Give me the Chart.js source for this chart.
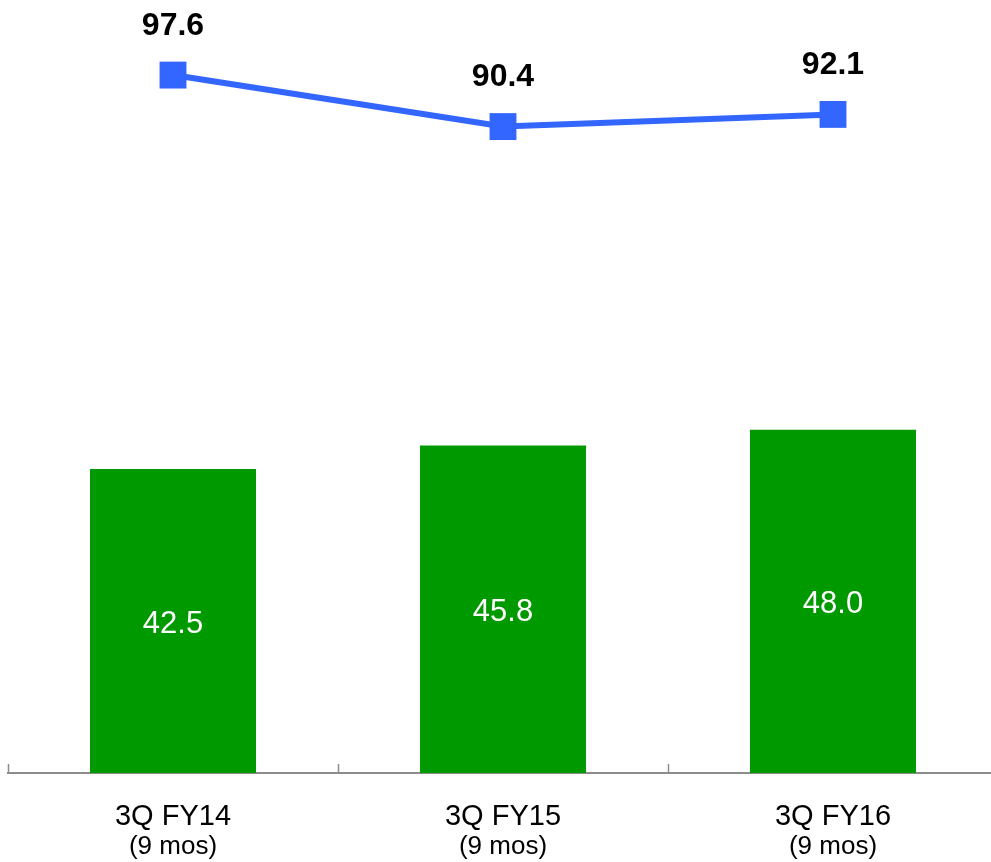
<!DOCTYPE html>
<html>
<head>
<meta charset="utf-8">
<script src="https://cdn.jsdelivr.net/npm/chart.js@4.4.1/dist/chart.umd.min.js"></script>
<style>
  html, body { margin: 0; padding: 0; background: #fff; overflow: hidden; }
  #chart { display: block; }
</style>
</head>
<body>
<canvas id="chart" width="1000" height="862"></canvas>
<script>
const categories = ['3Q FY14', '3Q FY15', '3Q FY16'];
const subLabels = ['(9 mos)', '(9 mos)', '(9 mos)'];
const barValues = [42.5, 45.8, 48.0];
const lineValues = [97.6, 90.4, 92.1];

const FONT = '"Liberation Sans", Arial, sans-serif';

// value labels, sub labels and the small upward tick marks
const labelPlugin = {
    id: 'labelPlugin',
    afterDatasetsDraw(chart) {
        const ctx = chart.ctx;
        const xScale = chart.scales.x;
        const bottom = chart.chartArea.bottom;

        ctx.save();
        ctx.textAlign = 'center';
        ctx.textBaseline = 'middle';

        chart.getDatasetMeta(0).data.forEach((bar, i) => {
            ctx.fillStyle = '#ffffff';
            ctx.font = '31px ' + FONT;
            ctx.fillText(barValues[i].toFixed(1), bar.x, (bar.y + bar.base) / 2 + 3);
        });

        chart.getDatasetMeta(1).data.forEach((pt, i) => {
            ctx.fillStyle = '#000000';
            ctx.font = 'bold 32px ' + FONT;
            ctx.fillText(lineValues[i].toFixed(1), pt.x, pt.y - 49);
        });

        ctx.fillStyle = '#000000';
        ctx.font = '26px ' + FONT;
        categories.forEach((c, i) => {
            ctx.fillText(subLabels[i], xScale.getPixelForValue(i), 847);
        });

        ctx.strokeStyle = '#8c8c8c';
        ctx.lineWidth = 1.5;
        for (let i = 0; i <= categories.length; i++) {
            const x = Math.round(xScale.getPixelForValue(i - 0.5)) + 0.5;
            ctx.beginPath();
            ctx.moveTo(x, bottom);
            ctx.lineTo(x, bottom - 9);
            ctx.stroke();
        }
        ctx.restore();
    },
};

new Chart(document.getElementById('chart').getContext('2d'), {
    data: {
        labels: categories,
        datasets: [
            {
                type: 'bar',
                data: barValues,
                backgroundColor: '#009900',
                borderWidth: 0,
                barPercentage: 1,
                categoryPercentage: 0.503,
                order: 2,
            },
            {
                type: 'line',
                data: lineValues,
                borderColor: '#3366ff',
                backgroundColor: '#3366ff',
                borderWidth: 6,
                pointStyle: 'rect',
                pointRadius: 19,
                pointBorderWidth: 0,
                pointBackgroundColor: '#3366ff',
                tension: 0,
                clip: false,
                order: 1,
            },
        ],
    },
    options: {
        responsive: false,
        animation: false,
        layout: {
            autoPadding: false,
            padding: { left: 8, right: 2, top: 0, bottom: 0 },
        },
        plugins: {
            legend: { display: false },
            tooltip: { enabled: false },
        },
        scales: {
            x: {
                offset: true,
                grid: { display: false },
                border: { display: true, color: '#8c8c8c', width: 2 },
                ticks: {
                    color: '#000000',
                    font: { family: FONT, size: 29 },
                    padding: 19,
                    maxRotation: 0,
                },
                afterFit: (scale) => {
                    scale.height = 89;
                },
            },
            y: {
                display: false,
                min: 0,
                max: 108.1,
            },
        },
    },
    plugins: [labelPlugin],
});
</script>
</body>
</html>
